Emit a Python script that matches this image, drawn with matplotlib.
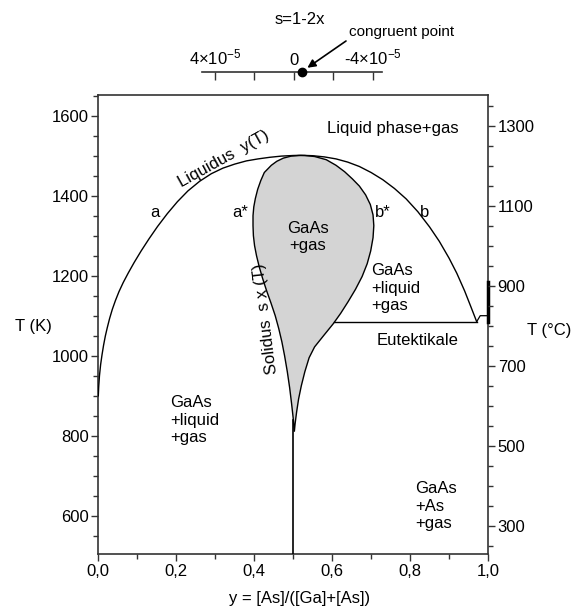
import matplotlib
matplotlib.use("Agg")
import matplotlib.pyplot as plt
from matplotlib.ticker import MultipleLocator

plt.rcParams["font.family"] = ["Liberation Sans", "DejaVu Sans"]
plt.rcParams["mathtext.fontset"] = "custom"
plt.rcParams["mathtext.rm"] = "Liberation Sans"
plt.rcParams["mathtext.default"] = "regular"
plt.rcParams["axes.unicode_minus"] = False
plt.rcParams["font.size"] = 12

# Liquidus y(T): composition y and temperature in K
liq_y = [0.0, 0.001, 0.003, 0.006, 0.0095, 0.0135, 0.018, 0.023, 0.029, 0.036,
         0.044, 0.053, 0.064, 0.077, 0.092, 0.11, 0.13, 0.152, 0.177, 0.203,
         0.23, 0.26, 0.29, 0.32, 0.35, 0.38, 0.41, 0.44, 0.47, 0.50, 0.52,
         0.55, 0.58, 0.61, 0.64, 0.67, 0.70, 0.73, 0.76, 0.79, 0.82, 0.85,
         0.875, 0.90, 0.92, 0.94, 0.955, 0.965, 0.971]
liq_T = [900, 922, 950, 978, 1002, 1026, 1049, 1070, 1093, 1116,
         1138, 1160, 1183, 1207, 1233, 1262, 1292, 1323, 1355, 1385,
         1412, 1436, 1455, 1469, 1479, 1487, 1492, 1496, 1499, 1500.5, 1501,
         1500, 1497, 1492, 1484, 1473, 1458, 1440, 1418, 1392, 1360, 1322,
         1286, 1244, 1206, 1162, 1125, 1100, 1085]

# Solidus x(T) loop (GaAs + gas region)
sol_x = [0.515, 0.495, 0.475, 0.458, 0.444, 0.426, 0.417, 0.409, 0.403, 0.399,
         0.397, 0.397, 0.398, 0.401, 0.406, 0.413, 0.422, 0.432, 0.443, 0.454,
         0.463, 0.471, 0.478, 0.485, 0.491, 0.496, 0.500, 0.503,
         0.505, 0.509, 0.514, 0.521, 0.530, 0.541, 0.555, 0.578, 0.603, 0.622,
         0.641, 0.660, 0.677, 0.690, 0.699, 0.705, 0.707, 0.705, 0.698, 0.686,
         0.670, 0.652, 0.632, 0.610, 0.585, 0.555, 0.530, 0.515]
sol_T = [1500.5, 1499, 1494, 1486, 1476, 1458, 1438, 1416, 1393, 1372,
         1350, 1325, 1300, 1275, 1250, 1222, 1192, 1162, 1132, 1100,
         1068, 1035, 1000, 960, 920, 880, 845, 810,
         830, 860, 892, 925, 960, 995, 1022, 1050, 1080, 1106,
         1135, 1166, 1198, 1230, 1262, 1295, 1325, 1352, 1378, 1402,
         1424, 1442, 1460, 1476, 1490, 1498, 1500.5, 1500.5]

# stoichiometric line, eutectic and As-side step
stoich_y = [0.5, 0.5]
stoich_T = [504, 840]
eut_y = [0.606, 0.971]
eut_T = [1085, 1085]
step_y = [0.971, 0.98, 1.0]
step_T = [1085, 1100, 1100]
edge_T = [1085, 1185]

x_ticks = [0.0, 0.2, 0.4, 0.6, 0.8, 1.0]
x_tick_labels = ["0,0", "0,2", "0,4", "0,6", "0,8", "1,0"]
K_ticks = [600, 800, 1000, 1200, 1400, 1600]
C_ticks = [300, 500, 700, 900, 1100, 1300]

# top scale s = 1-2x
s_ticks = [4e-5, 2e-5, 0, -2e-5, -4e-5]
s_tick_labels = [r"4×10$^{-5}$", "", "0", "", r"-4×10$^{-5}$"]
s_congruent = -0.39e-5

T_MIN, T_MAX = 504.25, 1651.75
W, H = 574, 609
AX_COL = "#333333"

fig = plt.figure(figsize=(W / 100, H / 100), dpi=100)
ax = fig.add_axes([98.3 / W, 1 - 554 / H, 389.7 / W, 459 / H])

ax.fill(sol_x, sol_T, facecolor="#d4d4d4", edgecolor="black", linewidth=1.0, zorder=2)
ax.plot(liq_y, liq_T, color="black", lw=1.0, zorder=3)
ax.plot(stoich_y, stoich_T, color="black", lw=1.2, zorder=3)
ax.plot(eut_y, eut_T, color="black", lw=1.0, zorder=3)
ax.plot(step_y, step_T, color="black", lw=0.9, zorder=3)
ax.plot([1.0, 1.0], edge_T, color="black", lw=2.5, zorder=4, clip_on=False)

ax.set_xlim(0, 1)
ax.set_ylim(T_MIN, T_MAX)
ax.set_xticks(x_ticks)
ax.set_xticklabels(x_tick_labels)
ax.xaxis.set_minor_locator(MultipleLocator(0.1))
ax.set_yticks(K_ticks)
ax.yaxis.set_minor_locator(MultipleLocator(50))
ax.tick_params(which="major", direction="out", length=5, width=1.0, color=AX_COL, pad=2)
ax.tick_params(which="minor", direction="out", length=3.5, width=1.0, color=AX_COL)
ax.tick_params(axis="x", top=False, which="both")
for sp in ax.spines.values():
    sp.set_color(AX_COL)
    sp.set_linewidth(1.2)

axr = ax.twinx()
axr.set_ylim(T_MIN - 273.15, T_MAX - 273.15)
axr.set_yticks(C_ticks)
axr.yaxis.set_minor_locator(MultipleLocator(50))
axr.tick_params(which="major", direction="out", length=5, width=1.0, color=AX_COL, pad=2)
axr.tick_params(which="minor", direction="out", length=3.5, width=1.0, color=AX_COL)
for sp in axr.spines.values():
    sp.set_visible(False)

# region labels
ax.text(0.756, 1569, "Liquid phase+gas", ha="center", va="center")
ax.text(0.322, 1492, "Liquidus  y(T)", ha="center", va="center", rotation=29,
        rotation_mode="anchor")
ax.text(0.145, 1359, "a", ha="center", va="center")
ax.text(0.364, 1359, "a*", ha="center", va="center")
ax.text(0.730, 1359, "b*", ha="center", va="center")
ax.text(0.836, 1359, "b", ha="center", va="center")
ax.text(0.538, 1297, "GaAs\n+gas", ha="center", va="center", zorder=5)
ax.text(0.700, 1169, "GaAs\n+liquid\n+gas", ha="left", va="center")
ax.text(0.431, 1093, "Solidus  s x (T)", ha="center", va="center", rotation=97,
        rotation_mode="anchor")
ax.text(0.818, 1037, "Eutektikale", ha="center", va="center")
ax.text(0.184, 839, "GaAs\n+liquid\n+gas", ha="left", va="center")
ax.text(0.813, 624, "GaAs\n+As\n+gas", ha="left", va="center")

fig.text(33 / W, 1 - 327 / H, "T (K)", ha="center", va="center")
fig.text(549 / W, 1 - 330 / H, "T (°C)", ha="center", va="center")
fig.text(300 / W, 1 - 598 / H, "y = [As]/([Ga]+[As])", ha="center", va="center")

# top scale in s
ax_s = fig.add_axes([201.7 / W, 1 - 71.7 / H - 0.02, 180 / W, 0.02])
ax_s.set_xlim(4.67e-5, -4.44e-5)
ax_s.set_ylim(0, 1)
for name, sp in ax_s.spines.items():
    sp.set_visible(name == "top")
ax_s.spines["top"].set_color(AX_COL)
ax_s.spines["top"].set_linewidth(1.2)
ax_s.set_yticks([])
ax_s.set_xticks(s_ticks)
ax_s.set_xticklabels(s_tick_labels)
ax_s.xaxis.set_ticks_position("top")
ax_s.tick_params(axis="x", direction="in", length=6, width=1.0, color=AX_COL, pad=3)
ax_s.patch.set_visible(False)
ax_s.plot([s_congruent], [1], "o", color="black", markersize=6, clip_on=False, zorder=5)

fig.text(300 / W, 1 - 20 / H, "s=1-2x", ha="center", va="center")
fig.text(401.7 / W, 1 - 31.7 / H, "congruent point", ha="center", va="center", fontsize=11)
ax_s.annotate("", xy=(s_congruent, 1), xycoords="data",
              xytext=(346 / W, 1 - 41 / H), textcoords="figure fraction",
              arrowprops=dict(arrowstyle="-|>", color="black", lw=1.2,
                              shrinkA=0, shrinkB=5, mutation_scale=12))

fig.savefig("out.png", dpi=100)
